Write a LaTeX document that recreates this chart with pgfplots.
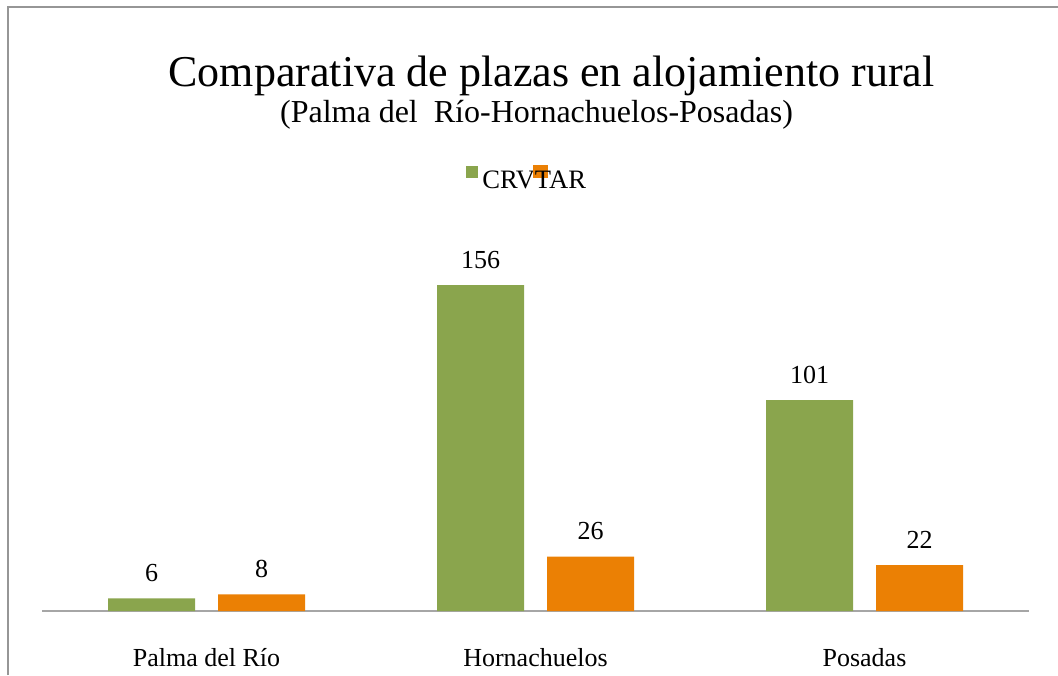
\documentclass[border=0pt]{standalone}
\usepackage{pgfplots}
\pgfplotsset{compat=1.18}
\usepackage{fontspec}
\setmainfont{Liberation Serif}
\definecolor{cgreen}{RGB}{138,165,77}
\definecolor{corange}{RGB}{235,128,4}
\definecolor{axgray}{RGB}{166,166,166}
\definecolor{framegray}{RGB}{150,150,150}
\begin{document}
\begin{tikzpicture}
\path[use as bounding box] (0,0) rectangle (529pt,337.5pt);
\draw[framegray, line width=0.8pt] (4pt,0) -- (4pt,334pt) -- (529pt,334pt);
\node[anchor=base, inner sep=0pt, font=\fontsize{22}{26}\selectfont] at (275.75pt,294pt) {Comparativa de plazas en alojamiento rural};
\node[anchor=base, inner sep=0pt, font=\fontsize{16}{19}\selectfont] at (268.25pt,276pt) {(Palma del\ \ Río-Hornachuelos-Posadas)};
\begin{axis}[
  at={(21pt,32pt)}, anchor=south west,
  scale only axis, width=493.5pt, height=188pt,
  xmin=-0.5, xmax=2.5, ymin=0, ymax=180,
  axis y line=none, axis x line*=bottom,
  x axis line style={axgray, line width=0.75pt},
  xtick={0,1,2}, xticklabels={Palma del Río, Hornachuelos, Posadas},
  xtick style={draw=none},
  xticklabel style={anchor=base, inner sep=0pt, yshift=-23.5pt, font=\fontsize{13}{15}\selectfont},
  ytick=\empty,
  /pgf/number format/assume math mode=true,
  ybar, bar width=43.5pt,
  nodes near coords,
  every node near coord/.append style={anchor=base, inner sep=0pt, yshift=8.5pt, font=\fontsize{13}{15}\selectfont, text=black},
  clip=false,
  legend columns=2,
  legend style={draw=none, fill=none, at={(0.4296,1.114)}, anchor=south west,
    column sep=0pt, inner sep=0pt, nodes={inner sep=0pt, anchor=base west},
    font=\fontsize{13.3}{15}\selectfont},
]
\addplot[fill=cgreen, draw=none, bar shift=-27.5pt,
  legend image code/.code={\fill[cgreen] (0pt,5.5pt) rectangle (5.8pt,11.3pt); \path (8pt,0pt);}]
  coordinates {(0,6) (1,156) (2,101)};
\addlegendentry{CRV}
\addplot[fill=corange, draw=none, bar shift=27.5pt,
  legend image code/.code={\fill[corange,overlay] (-0.75pt,5.5pt) rectangle (6.5pt,12pt); \path (0pt,0pt);}]
  coordinates {(0,8) (1,26) (2,22)};
\addlegendentry{TAR}
\end{axis}
\end{tikzpicture}
\end{document}
